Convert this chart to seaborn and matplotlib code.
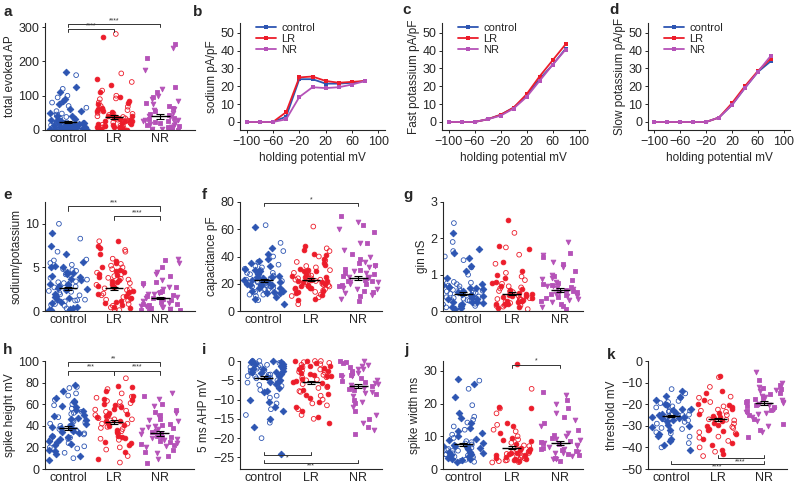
import numpy as np
import pandas as pd
import matplotlib
matplotlib.use("Agg")
import matplotlib.pyplot as plt
import seaborn as sns

groups = ["control", "LR", "NR"]
colors = {"control": "#2d55b2", "LR": "#ec1c2a", "NR": "#b552b8"}

# ---- I-V curves (panels b-d)
potential = [-100, -80, -60, -40, -20, 0, 20, 40, 60, 80]
sodium_control = [0, 0, 0, 3, 24, 24, 21.5, 21.5, 22, 23]
sodium_LR = [0, 0, 0, 5.5, 25, 25.5, 23, 22, 22.5, 23]
sodium_NR = [0, 0, 0, 1.5, 14, 19.5, 19, 19.5, 21, 23]
fastk_control = [0, 0, 0, 1.5, 4, 8, 14.5, 24, 32, 41]
fastk_LR = [0, 0, 0, 1.5, 4, 8, 15.5, 25.5, 34.5, 43.5]
fastk_NR = [0, 0, 0, 1.5, 3.5, 7.5, 14, 23, 32, 40.5]
slowk_control = [0, 0, 0, 0, 0, 2.5, 9.5, 19, 28, 34]
slowk_LR = [0, 0, 0, 0, 0, 2.5, 10.5, 20, 28.5, 35.5]
slowk_NR = [0, 0, 0, 0, 0, 2.5, 9.5, 19, 28, 37]

# ---- single cell values (panels a, e-k)
ap_control = [0, 2, 5, 8, 10, 12, 15, 18, 20, 3, 6, 9, 14, 22, 25, 28, 30, 35, 0, 1, 4, 7, 11, 13, 16, 19, 24, 27, 32, 38,
              40, 45, 50, 55, 60, 70, 75, 80, 90, 100, 110, 120, 125, 160, 170, 0, 2, 5, 8, 12, 17, 21, 26, 33, 42, 48,
              3, 6, 10, 15, 0, 4, 9, 14, 20, 30, 55, 65, 85, 95]
ap_LR = [0, 3, 6, 10, 14, 18, 22, 26, 30, 35, 40, 45, 50, 55, 60, 65, 70, 75, 80, 85, 90, 95, 100, 110, 115, 130, 140,
         150, 165, 270, 280, 2, 5, 8, 12, 16, 20, 25, 28, 32, 38, 42, 48, 52, 58, 62, 5, 9, 13, 17, 21, 27, 33, 37, 44,
         0, 1, 4, 7, 11, 15, 19, 24, 29, 34, 41, 47, 56, 68, 78, 92]
ap_NR = [0, 3, 6, 10, 15, 20, 25, 30, 35, 40, 45, 50, 55, 60, 70, 75, 80, 90, 95, 100, 110, 120, 125, 175, 210, 240, 250,
         2, 5, 8, 12, 18, 22, 28, 33, 38, 48, 58, 65, 85, 1, 4, 9, 14, 19, 27]

ratio_control = [0.1, 0.3, 0.5, 0.8, 1.0, 1.2, 1.5, 1.8, 2.0, 2.2, 2.5, 2.8, 3.0, 3.2, 3.5, 3.8, 4.0, 4.2, 4.5, 4.8, 5.0,
                 5.3, 5.6, 5.8, 6.5, 6.8, 7.5, 8.3, 9.0, 10.0, 0.2, 0.6, 0.9, 1.3, 1.7, 2.1, 2.4, 2.7, 3.1, 3.4, 3.7,
                 4.1, 4.4, 4.7, 5.1, 5.5, 0.4, 1.1, 1.6, 2.3, 2.9, 3.3, 3.9, 4.6, 5.2, 0.7, 1.4, 1.9, 2.6, 3.6, 4.3,
                 5.9, 0.15, 2.45, 3.05, 1.25]
ratio_LR = [0.1, 0.3, 0.6, 0.9, 1.2, 1.5, 1.8, 2.1, 2.4, 2.7, 3.0, 3.3, 3.6, 3.9, 4.2, 4.5, 4.8, 5.1, 5.4, 5.7, 6.0, 6.5,
            7.0, 7.5, 8.0, 8.0, 0.2, 0.5, 0.8, 1.1, 1.4, 1.7, 2.0, 2.3, 2.6, 2.9, 3.2, 3.5, 3.8, 4.1, 4.4, 4.7, 5.0,
            5.5, 0.4, 1.0, 1.6, 2.2, 2.8, 3.4, 4.0, 4.6, 5.2, 0.7, 1.3, 1.9, 2.5, 3.1, 3.7, 4.3, 6.8, 7.2]
ratio_NR = [0.1, 0.2, 0.4, 0.5, 0.7, 0.9, 1.0, 1.2, 1.4, 1.6, 1.8, 2.0, 2.2, 2.5, 2.8, 3.0, 3.3, 3.6, 4.0, 4.5, 5.0,
            5.5, 5.8, 6.0, 0.3, 0.6, 0.8, 1.1, 1.3, 1.5, 1.7, 1.9, 2.3, 2.7, 0.15, 0.45, 0.75, 1.05, 1.45, 2.1, 0.25,
            0.55, 3.2, 4.2]

cap_control = [5, 8, 10, 12, 13, 14, 15, 16, 17, 18, 19, 20, 21, 22, 23, 24, 25, 26, 27, 28, 29, 30, 31, 32, 33, 34, 35,
               36, 38, 40, 42, 44, 46, 50, 62, 63, 9, 11, 14, 16, 17, 18, 19, 20, 21, 22, 23, 24, 26, 28, 30, 33, 37,
               12, 15, 18, 20, 22, 25, 27, 29, 31, 13, 17, 19, 21, 24, 16, 20, 23]
cap_LR = [5, 8, 10, 12, 14, 15, 16, 17, 18, 19, 20, 21, 22, 23, 24, 25, 26, 27, 28, 29, 30, 31, 32, 34, 36, 38, 40, 42,
          44, 45, 46, 48, 62, 9, 11, 13, 15, 17, 19, 21, 23, 25, 27, 29, 33, 35, 12, 14, 16, 18, 20, 22, 24, 26, 28,
          18, 19, 20, 21, 22, 23, 17, 24, 30, 37, 41]
cap_NR = [7, 9, 11, 13, 15, 17, 19, 20, 22, 24, 26, 28, 30, 32, 34, 36, 38, 40, 42, 45, 50, 50, 58, 60, 63, 65, 70, 12,
          14, 16, 18, 21, 23, 25, 27, 29, 31, 33, 35, 16, 20, 24, 28, 21, 22, 25]

gin_control = [0.05, 0.1, 0.15, 0.2, 0.25, 0.3, 0.35, 0.4, 0.45, 0.5, 0.55, 0.6, 0.65, 0.7, 0.75, 0.8, 0.12, 0.18,
               0.22, 0.28, 0.32, 0.38, 0.42, 0.48, 0.52, 0.58, 0.62, 0.68, 0.72, 0.78, 0.08, 0.16, 0.24, 0.34, 0.44,
               0.54, 0.64, 0.74, 0.2, 0.3, 0.4, 0.5, 0.6, 0.85, 0.9, 1.0, 1.1, 1.2, 1.25, 1.4, 1.45, 1.5, 1.6, 1.65,
               1.7, 1.9, 2.15, 2.42, 0.26, 0.36, 0.46, 0.56, 0.66, 0.14, 0.33]
gin_LR = [0.05, 0.1, 0.15, 0.2, 0.25, 0.3, 0.35, 0.4, 0.45, 0.5, 0.55, 0.6, 0.65, 0.7, 0.75, 0.8, 0.85, 0.9, 0.95, 1.0,
          0.12, 0.18, 0.22, 0.28, 0.32, 0.38, 0.42, 0.48, 0.52, 0.58, 0.62, 0.08, 0.16, 0.24, 0.34, 0.44, 0.54, 0.2,
          0.3, 0.4, 0.26, 0.36, 1.05, 1.1, 1.3, 1.35, 1.55, 1.7, 1.75, 1.8, 2.15, 2.5, 0.14, 0.28, 0.33, 0.46, 0.68,
          0.78]
gin_NR = [0.05, 0.1, 0.2, 0.3, 0.35, 0.4, 0.45, 0.5, 0.55, 0.6, 0.65, 0.7, 0.75, 0.8, 0.85, 0.9, 0.95, 1.0, 1.1, 1.2,
          1.3, 1.35, 1.5, 1.55, 1.6, 1.9, 0.15, 0.25, 0.38, 0.48, 0.58, 0.68, 0.78, 0.88, 0.28, 0.42, 0.52, 0.62, 0.72,
          0.33, 0.46]

height_control = [8, 10, 12, 15, 18, 20, 22, 24, 26, 28, 30, 32, 34, 36, 38, 40, 42, 44, 46, 48, 50, 52, 54, 56, 58, 60,
                  62, 64, 66, 70, 72, 75, 78, 19, 23, 27, 31, 35, 39, 43, 47, 51, 55, 59, 63, 21, 25, 29, 33, 37, 41,
                  45, 49, 53, 17, 30, 35, 40, 45, 36, 38, 33, 28, 42, 57, 68, 14, 76]
height_LR = [6, 9, 12, 16, 20, 24, 27, 30, 33, 36, 38, 40, 42, 44, 46, 48, 50, 52, 54, 56, 58, 60, 62, 64, 66, 68, 70,
             72, 74, 77, 84, 22, 28, 34, 39, 43, 47, 51, 55, 59, 63, 31, 35, 41, 45, 49, 53, 57, 61, 25, 37, 44, 46,
             65, 18, 29, 42, 50, 67, 76]
height_NR = [6, 9, 12, 15, 18, 20, 22, 24, 26, 28, 30, 32, 34, 36, 38, 40, 42, 44, 46, 48, 50, 52, 55, 58, 60, 65, 68,
             70, 16, 21, 25, 29, 33, 37, 41, 27, 31, 35, 23, 39, 30, 45, 53]

ahp_control = [0, 0, 0, 0, -0.3, -0.5, -0.8, -1, -1.2, -1.5, -1.8, -2, -2.2, -2.5, -2.8, -3, -3.2, -3.5, -3.8, -4, -4.2,
               -4.5, -4.8, -5, -5.3, -5.6, -6, -6.5, -7, -7.5, -8, -9, -10, -11, -12, -12.5, -13, -14, -15, -16, -17,
               -20, -24, -0.6, -1.4, -2.4, -3.4, -4.4, -5.5, -6.2, -0.2, -1.1, -2.1, -3.1, -4.1, -1.6, -2.6, -3.6,
               -0.9, -1.9, -2.9, -3.9, -7.8, -9.5, -10.5]
ahp_LR = [0, 0, 0, 0, -0.3, -0.6, -1, -1.3, -1.6, -2, -2.3, -2.6, -3, -3.3, -3.6, -4, -4.3, -4.6, -5, -5.5, -6, -6.5,
          -7, -7.5, -8, -8.5, -9, -9.5, -10, -10.5, -11, -12, -12.5, -13, -14, -14.5, -15, -16, -0.8, -1.8, -2.8,
          -3.8, -4.8, -5.8, -6.8, -1.2, -2.2, -3.2, -4.2, -5.2, -0.5, -1.5, -2.5, -3.5, -7.8, -8.8, -11.5]
ahp_NR = [0, 0, -0.5, -1, -1.5, -2, -2.5, -3, -3.5, -4, -4.5, -5, -5.5, -6, -6.5, -7, -7.5, -8, -8.5, -9, -10, -10.5,
          -11, -12, -13, -14, -15, -16, -17, -18, -19, -2.2, -3.2, -4.2, -5.2, -6.2, -7.2, -1.2, -3.7, -5.7, -6.8,
          -8.2, -0.3]

width_control = [2, 2.5, 3, 3.5, 4, 4.5, 5, 5.5, 6, 6.5, 7, 7.5, 8, 8.5, 9, 9.5, 10, 10.5, 11, 12, 12.5, 13, 14, 15,
                 15.5, 16, 17, 19.5, 22, 24.5, 26, 27, 27.5, 2.8, 3.3, 3.8, 4.3, 4.8, 5.3, 5.8, 6.3, 6.8, 7.3, 2.2,
                 3.1, 4.1, 5.1, 6.1, 7.1, 8.2, 9.2, 3.6, 4.6, 5.6, 6.6, 7.8, 2.6, 4.4, 11.5, 14.2]
width_LR = [2, 2.3, 2.6, 3, 3.3, 3.6, 4, 4.3, 4.6, 5, 5.3, 5.6, 6, 6.5, 7, 7.5, 8, 8.5, 9, 9.5, 10, 11, 12, 13, 13.5, 14,
            17, 18.5, 18.5, 19, 24.5, 32, 2.1, 2.8, 3.5, 4.2, 4.9, 5.8, 2.4, 3.1, 3.8, 4.5, 5.2, 6.2, 2.7, 3.4, 4.1,
            4.8, 7.2, 8.8, 11.5]
width_NR = [2.5, 3, 3.5, 4, 4.5, 5, 5.5, 6, 6.5, 7, 7.5, 8, 8.5, 9, 9.5, 10, 10.5, 11, 12, 13, 14, 15, 16, 17, 18.5, 20,
            21, 22.5, 23.5, 3.2, 4.2, 5.2, 6.2, 7.2, 8.2, 4.8, 5.8, 6.8, 7.8, 9.2]

thr_control = [-41, -40, -39, -38, -36, -35, -34, -33, -32, -31, -30, -29, -28, -27, -26, -25, -24, -23, -22, -21, -20,
               -19, -18, -17, -16, -15, -14, -13, -37, -33.5, -30.5, -28.5, -26.5, -25.5, -24.5, -23.5, -22.5, -21.5,
               -29.5, -27.5, -25.2, -24.2, -20.5, -18.5, -26.2, -23.2, -27.2, -31.5, -34.5, -19.5, -22.2, -28.2,
               -25.8, -24.8, -16.5]
thr_LR = [-44, -43, -42, -41, -40, -38, -37, -36, -35, -34, -33, -32, -31, -30, -29, -28, -27, -26, -25, -24, -23, -22,
          -21, -20, -19, -18, -17, -15, -12, -7, -7.5, -39, -35.5, -32.5, -30.5, -28.5, -26.5, -24.5, -22.5, -20.5,
          -33.5, -29.5, -27.5, -25.5, -23.5, -31.5, -27.2, -21.5, -16.5, -14]
thr_NR = [-35, -33, -32, -30, -29, -28, -27, -26, -25, -24, -23, -22, -21, -20, -19, -18, -17, -16, -15, -14, -13, -12,
          -11, -10, -9, -5, -22.5, -20.5, -18.5, -16.5, -21.5, -19.5, -17.5, -23.5, -15.5, -19.2, -20.2, -24.5, -12.5,
          -13.5]

# mean and SEM
ap_mean, ap_sem = [22, 38, 40], [3, 6, 7]
ratio_mean, ratio_sem = [2.6, 2.6, 1.5], [0.15, 0.2, 0.15]
cap_mean, cap_sem = [22.5, 23, 24.5], [1, 1, 1.5]
gin_mean, gin_sem = [0.48, 0.48, 0.58], [0.04, 0.04, 0.05]
height_mean, height_sem = [38, 43.5, 33], [1.5, 1.5, 2]
ahp_mean, ahp_sem = [-4.3, -5.5, -6.5], [0.4, 0.4, 0.6]
width_mean, width_sem = [7.5, 6.5, 8], [0.5, 0.5, 0.6]
thr_mean, thr_sem = [-25.5, -27, -19.5], [0.6, 0.8, 0.8]

sns.set_style("ticks")
plt.rcParams["font.family"] = ["Liberation Sans", "DejaVu Sans"]
plt.rcParams["axes.linewidth"] = 0.8
np.random.seed(3)

fig = plt.figure(figsize=(8, 4.87), dpi=100)

# marker styles per group: (marker, filled)
styles = {"control": [("D", True), ("o", False)],
          "LR": [("o", False), ("o", True)],
          "NR": [("s", True), ("v", True)]}


def style_axis(ax):
    sns.despine(ax=ax)
    ax.tick_params(labelsize=9, length=2.5, width=0.7, pad=1.5)


def strip_panel(ax, data, means, sems, ylabel, ylim, yticks, xlim, clip=True):
    for g in groups:
        vals = data[g]
        for k, (mk, filled) in enumerate(styles[g]):
            sub = pd.DataFrame({"group": g, "value": vals[k::2]})
            n0 = len(ax.collections)
            sns.stripplot(data=sub, x="group", y="value", order=groups, color=colors[g],
                          marker=mk, size=3.4, jitter=0.42, linewidth=0.6,
                          edgecolor=colors[g], ax=ax, zorder=2)
            for c in ax.collections[n0:]:
                if not clip and len(c.get_offsets()) > 0:
                    c.set_clip_on(False)
                if not filled:
                    c.set_facecolor("none")
    xs = np.arange(3)
    ax.hlines(means, xs - 0.2, xs + 0.2, color="black", lw=1.0, zorder=5)
    ax.errorbar(xs, means, yerr=sems, fmt="none", ecolor="black", elinewidth=0.8,
                capsize=3, capthick=0.8, zorder=5)
    ax.set_xlim(*xlim)
    ax.set_ylim(*ylim)
    ax.set_yticks(yticks)
    ax.set_xlabel("")
    ax.set_ylabel(ylabel, fontsize=8.5, labelpad=2)
    style_axis(ax)
    ax.tick_params(axis="x", length=0, pad=2)


def bracket(ax, x1, x2, y, d, txt):
    ax.plot([x1, x1, x2, x2], [y - d, y, y, y - d], color="#333333", lw=0.7, clip_on=False)
    va = "bottom" if d > 0 else "top"
    ax.text((x1 + x2) / 2, y, txt, ha="center", va=va, fontsize=5, color="#333333")


def iv_panel(ax, ctrl, lr, nr, ylabel):
    df = pd.DataFrame({"mV": potential * 3,
                       "current": ctrl + lr + nr,
                       "group": ["control"] * 10 + ["LR"] * 10 + ["NR"] * 10})
    sns.lineplot(data=df, x="mV", y="current", hue="group", hue_order=groups, palette=colors,
                 marker="s", markersize=3.5, markeredgewidth=0, lw=1.3, ax=ax)
    h, l = ax.get_legend_handles_labels()
    ax.legend(h, l, loc="upper left", bbox_to_anchor=(0.08, 1.04), frameon=False,
              fontsize=8, handlelength=1.8, handletextpad=0.5, labelspacing=0.1, borderaxespad=0)
    ax.set_xlim(-110, 110)
    ax.set_ylim(-4.5, 55.5)
    ax.set_xticks([-100, -60, -20, 20, 60, 100])
    ax.set_yticks([0, 10, 20, 30, 40, 50])
    ax.set_xlabel("holding potential mV", fontsize=8.5, labelpad=3)
    ax.set_ylabel(ylabel, fontsize=8.5, labelpad=2)
    style_axis(ax)


def fx(px):
    return px / 800


def fy(px_top, px_bottom):
    return (487 - px_bottom) / 487, (px_bottom - px_top) / 487


r1 = fy(23, 130)
r2 = fy(202, 311)
r3 = fy(361, 469)

ax_a = fig.add_axes([fx(45), r1[0], fx(150), r1[1]])
ax_b = fig.add_axes([fx(240), r1[0], fx(145), r1[1]])
ax_c = fig.add_axes([fx(442), r1[0], fx(143), r1[1]])
ax_d = fig.add_axes([fx(648), r1[0], fx(142), r1[1]])
ax_e = fig.add_axes([fx(45), r2[0], fx(150), r2[1]])
ax_f = fig.add_axes([fx(240), r2[0], fx(142), r2[1]])
ax_g = fig.add_axes([fx(443), r2[0], fx(140), r2[1]])
ax_h = fig.add_axes([fx(45), r3[0], fx(149), r3[1]])
ax_i = fig.add_axes([fx(240), r3[0], fx(142), r3[1]])
ax_j = fig.add_axes([fx(443), r3[0], fx(140), r3[1]])
ax_k = fig.add_axes([fx(648), r3[0], fx(139), r3[1]])

strip_panel(ax_a, {"control": ap_control, "LR": ap_LR, "NR": ap_NR}, ap_mean, ap_sem,
            "total evoked AP", (0, 312), [0, 100, 200, 300], (-0.5, 2.75))
bracket(ax_a, 0, 1, 294, 8, "****")
bracket(ax_a, 0, 2, 309, 8, "****")

iv_panel(ax_b, sodium_control, sodium_LR, sodium_NR, "sodium pA/pF")
iv_panel(ax_c, fastk_control, fastk_LR, fastk_NR, "Fast potassium pA/pF")
iv_panel(ax_d, slowk_control, slowk_LR, slowk_NR, "Slow potassium pA/pF")

strip_panel(ax_e, {"control": ratio_control, "LR": ratio_LR, "NR": ratio_NR}, ratio_mean, ratio_sem,
            "sodium/potassium", (0, 12.5), [0, 5, 10], (-0.5, 2.75))
bracket(ax_e, 0, 2, 12.0, 0.5, "***")
bracket(ax_e, 1, 2, 10.9, 0.5, "****")

strip_panel(ax_f, {"control": cap_control, "LR": cap_LR, "NR": cap_NR}, cap_mean, cap_sem,
            "capacitance pF", (0, 80), [0, 20, 40, 60, 80], (-0.5, 2.5))
bracket(ax_f, 0, 2, 79, 2, "*")

strip_panel(ax_g, {"control": gin_control, "LR": gin_LR, "NR": gin_NR}, gin_mean, gin_sem,
            "gin nS", (0, 3), [0, 1, 2, 3], (-0.42, 2.47))

strip_panel(ax_h, {"control": height_control, "LR": height_LR, "NR": height_NR}, height_mean, height_sem,
            "spike height mV", (0, 100), [0, 20, 40, 60, 80, 100], (-0.5, 2.75))
bracket(ax_h, 0, 2, 99, 3.5, "**")
bracket(ax_h, 0, 1, 91, 3.5, "***")
bracket(ax_h, 1, 2, 91, 3.5, "****")

strip_panel(ax_i, {"control": ahp_control, "LR": ahp_LR, "NR": ahp_NR}, ahp_mean, ahp_sem,
            "5 ms AHP mV", (-28, 0), [-25, -20, -15, -10, -5, 0], (-0.5, 2.5), clip=False)
bracket(ax_i, 0, 1, -24.3, -0.7, "*")
bracket(ax_i, 0, 2, -26.4, -0.7, "***")

strip_panel(ax_j, {"control": width_control, "LR": width_LR, "NR": width_NR}, width_mean, width_sem,
            "spike width ms", (0, 33), [0, 10, 20, 30], (-0.42, 2.47))
bracket(ax_j, 1, 2, 31.9, 1.1, "*")

strip_panel(ax_k, {"control": thr_control, "LR": thr_LR, "NR": thr_NR}, thr_mean, thr_sem,
            "threshold mV", (-50, 0), [-50, -40, -30, -20, -10, 0], (-0.5, 2.5))
bracket(ax_k, 1, 2, -45, -1.3, "****")
bracket(ax_k, 0, 2, -47.6, -1.3, "****")

letters = [("a", 3, 12), ("b", 193, 12), ("c", 402, 10), ("d", 609, 10),
           ("e", 3, 195), ("f", 202, 195), ("g", 403, 195),
           ("h", 3, 350), ("i", 202, 350), ("j", 404, 350), ("k", 607, 355)]
for t, px, py in letters:
    fig.text(px / 800, 1 - py / 487, t, fontsize=11, fontweight="bold", ha="left", va="center")

fig.savefig("out.png", dpi=100)
